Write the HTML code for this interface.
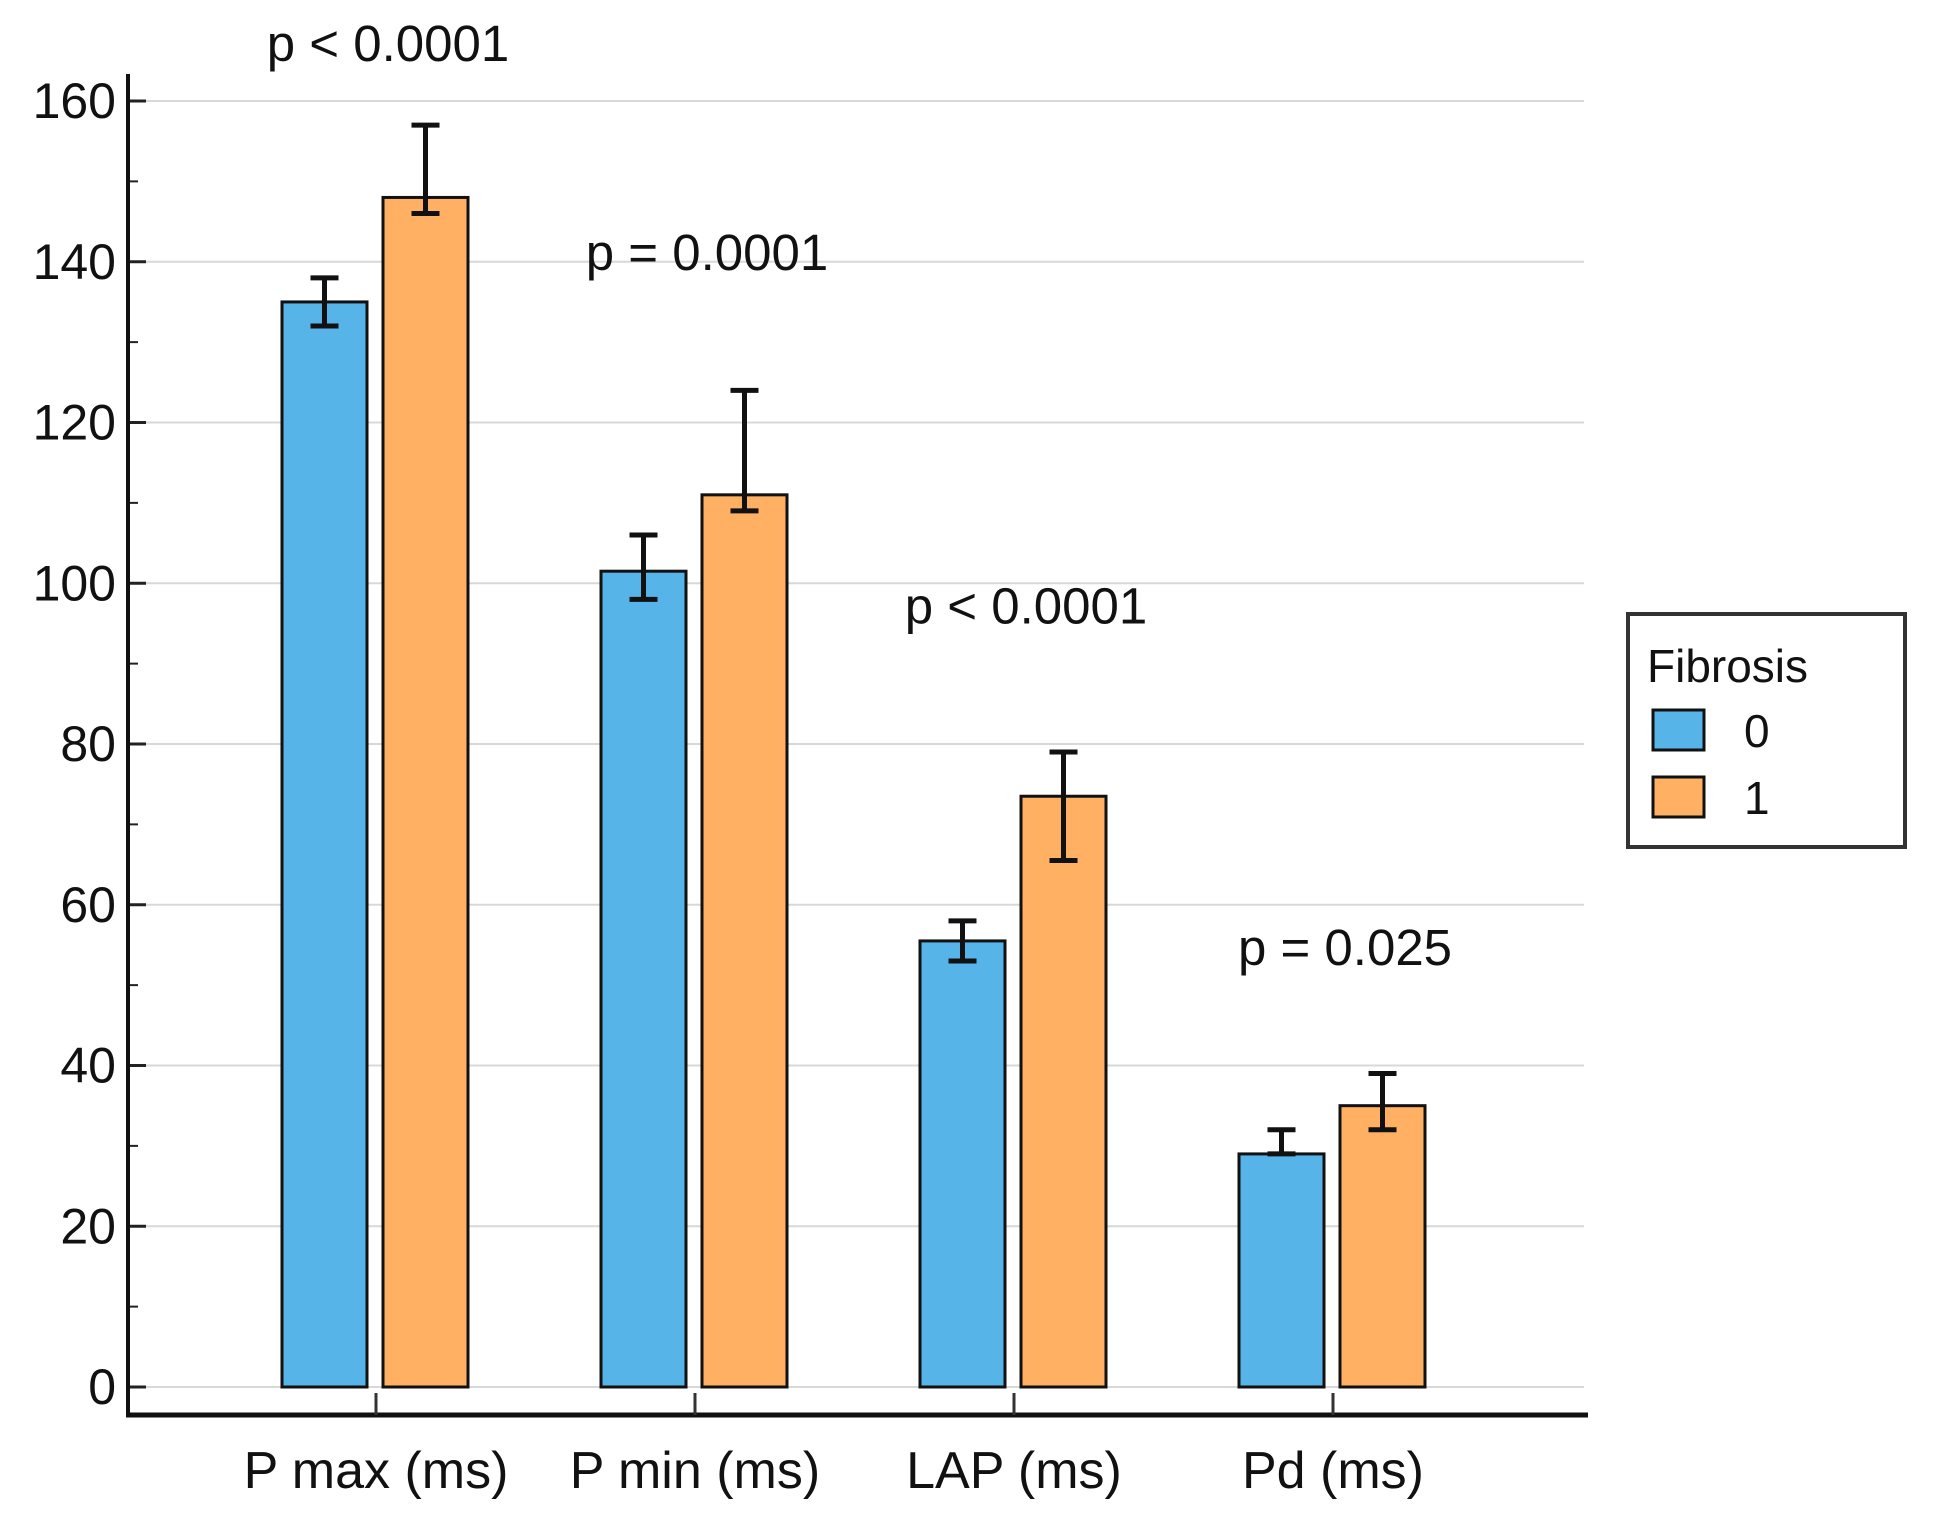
<!DOCTYPE html>
<html><head><meta charset="utf-8"><style>
html,body{margin:0;padding:0;background:#fff;}
svg text{font-family:"Liberation Sans",Arial,sans-serif;fill:#111;}
</style></head><body>
<svg id="chart" width="1933" height="1530" viewBox="0 0 1933 1530" xmlns="http://www.w3.org/2000/svg">
<g id="grid"></g>
<g id="yaxis"></g>
<g id="xaxis"></g>
<g id="bars"></g>
<g id="ann"></g>
<g>
  <rect x="1628" y="614" width="277" height="233" fill="#fff" stroke="#333" stroke-width="4"/>
  <text x="1647" y="682" font-size="46">Fibrosis</text>
  <rect x="1653" y="710" width="51" height="40" fill="#56b4e9" stroke="#111" stroke-width="3"/>
  <text x="1744" y="747" font-size="46">0</text>
  <rect x="1653" y="777" width="51" height="40" fill="#ffb062" stroke="#111" stroke-width="3"/>
  <text x="1744" y="814" font-size="46">1</text>
</g>
</svg>
<script>
const categories = ["P max (ms)", "P min (ms)", "LAP (ms)", "Pd (ms)"];
const group0 = [135, 101.5, 55.5, 29];
const group0Low = [132, 98, 53, 29];
const group0High = [138, 106, 58, 32];
const group1 = [148, 111, 73.5, 35];
const group1Low = [146, 109, 65.5, 32];
const group1High = [157, 124, 79, 39];
const pLabels = ["p < 0.0001", "p = 0.0001", "p < 0.0001", "p = 0.025"];
const pLabelValues = [165, 139, 95, 52.5];
const yTicks = [0, 20, 40, 60, 80, 100, 120, 140, 160];

const NS = "http://www.w3.org/2000/svg";
const y0 = 1387, pxPer = 160.75 / 20;
function yScale(v){ return y0 - v * pxPer; }
function xScale(i){ return 376 + i * 319; }
function mk(tag, attrs, parent){
  const e = document.createElementNS(NS, tag);
  for (const k in attrs) e.setAttribute(k, attrs[k]);
  parent.appendChild(e); return e;
}
const grid = document.getElementById('grid'), ya = document.getElementById('yaxis'),
      xa = document.getElementById('xaxis'), bars = document.getElementById('bars'),
      ann = document.getElementById('ann');

yTicks.forEach(t => {
  const g = mk('line', {x1:133, x2:1584, y1:yScale(t), y2:yScale(t), stroke:'#d8d8d8', 'stroke-width':2}, grid);
  
  
  const tk = mk('line', {x1:128, x2:146, y1:yScale(t), y2:yScale(t), stroke:'#222', 'stroke-width':3}, ya);
  
  
  const lb = mk('text', {x:116, y:yScale(t) + 17, 'font-size':50, 'text-anchor':'end'}, ya);
  lb.textContent = t;
  
  
  if (t < 160) {
    const mt = mk('line', {x1:128, x2:138, y1:yScale(t + 10), y2:yScale(t + 10), stroke:'#222', 'stroke-width':2}, ya);
    
    
  }
});
const yl = mk('line', {x1:128, x2:128, y1:74, y2:1417, stroke:'#111', 'stroke-width':4}, ya);


const xl = mk('line', {x1:126, x2:1588, y1:1415, y2:1415, stroke:'#111', 'stroke-width':5}, xa);



function errBar(cx, lo, hi, name){
  const g = mk('g', {stroke:'#111', 'stroke-width':5}, bars);
  
  
  mk('line', {x1:cx, x2:cx, y1:yScale(lo), y2:yScale(hi)}, g);
  mk('line', {x1:cx-14, x2:cx+14, y1:yScale(lo), y2:yScale(lo)}, g);
  mk('line', {x1:cx-14, x2:cx+14, y1:yScale(hi), y2:yScale(hi)}, g);
}

categories.forEach((c, i) => {
  const cx = xScale(i);
  const ct = mk('line', {x1:cx, x2:cx, y1:1393, y2:1415, stroke:'#333', 'stroke-width':3}, xa);
  
  
  const cl = mk('text', {x:cx, y:1488, 'font-size':52, 'text-anchor':'middle'}, xa);
  cl.textContent = c;
  
  

  const b0 = mk('rect', {x:cx-94, y:yScale(group0[i]), width:85, height:y0 - yScale(group0[i]), fill:'#56b4e9', stroke:'#111', 'stroke-width':3}, bars);
  
  
  const b1 = mk('rect', {x:cx+7, y:yScale(group1[i]), width:85, height:y0 - yScale(group1[i]), fill:'#ffb062', stroke:'#111', 'stroke-width':3}, bars);
  
  
  errBar(cx - 51.5, group0Low[i], group0High[i], 'error-bar-fibrosis0-' + i);
  errBar(cx + 49.5, group1Low[i], group1High[i], 'error-bar-fibrosis1-' + i);

  const pt = mk('text', {x:cx + 12, y:yScale(pLabelValues[i]), 'font-size':51, 'text-anchor':'middle'}, ann);
  pt.textContent = pLabels[i];
  
  
});
</script>
</body></html>
